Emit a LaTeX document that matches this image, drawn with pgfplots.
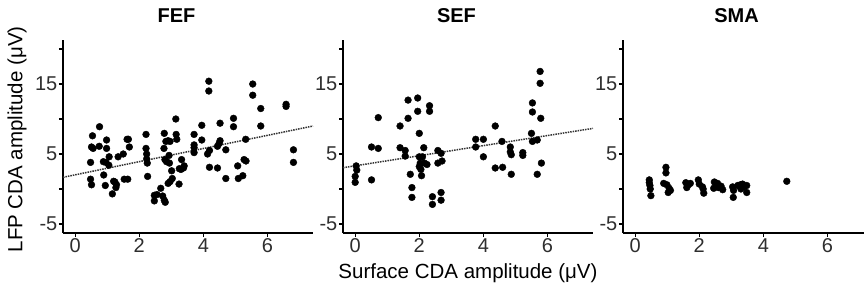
\documentclass[border=0pt]{standalone}
\usepackage{fontspec}
\setmainfont{Liberation Sans}
\usepackage{pgfplots}
\pgfplotsset{compat=1.18}
\pgfplotsset{
  panel/.style={
    scale only axis, width=250pt, height=193pt,
    anchor=south west,
    xmin=-0.38, xmax=7.42, ymin=-6.29, ymax=21.29,
    axis lines=left, axis line style={-, line width=1.1pt, black},
    tick align=outside, major tick length=4pt, tick style={line width=1.1pt, black},
    xtick={0,2,4,6}, xticklabels={0,2,4,6},
    ytick={-5,0,5,10,15,20}, yticklabels={-5,{},5,{},15,{}},
    ticklabel style={font=\fontsize{20}{24}\selectfont, text=black!82, inner sep=1.5pt},
    title style={font=\fontsize{20}{24}\selectfont\bfseries, at={(axis description cs:0.454,1.095)}, anchor=center},
    label style={font=\fontsize{20.5}{25}\selectfont},
    clip=false,
  },
  pts/.style={only marks, mark=*, mark size=3.4pt, black},
  fit/.style={densely dotted, line width=1.5pt, black!80, no marks},
}
\begin{document}
\begin{tikzpicture}
% FEF
\begin{axis}[panel, at={(63pt,-233pt)}, title={FEF},
  ylabel={LFP CDA amplitude (μV)},
  ylabel style={at={(axis description cs:-0.184,0.485)}, anchor=center}]
\addplot[fit] coordinates {(-0.38,1.67) (7.42,9.0)};
\addplot[pts] coordinates {
(0.54,7.6) (0.51,6.0) (0.56,5.8) (0.48,3.8) (0.48,1.4) (0.51,0.6)
(0.76,8.9) (0.75,6.1) (0.98,7.0) (0.98,5.8) (0.88,3.9) (0.96,3.8) (1.06,4.6) (1.05,3.4) (0.89,2.0) (0.94,0.5)
(1.16,-0.7) (1.2,1.1) (1.24,1.0) (1.29,0.6) (1.27,0.2) (1.34,4.6)
(1.5,5.0) (1.53,1.4) (1.64,1.4) (1.66,7.1) (1.69,6.0) (1.62,7.1)
(2.21,7.8) (2.21,5.8) (2.23,5.0) (2.23,4.3) (2.25,3.7) (2.26,1.8)
(2.47,-0.9) (2.55,-0.8) (2.47,-1.7) (2.67,0.1) (2.73,-1.0) (2.78,-1.6) (2.81,-1.9)
(2.78,7.95) (2.77,5.8) (2.8,4.2) (2.85,3.9) (2.83,6.8) (2.9,6.9) (2.96,6.8)
(2.93,4.8) (2.94,3.7) (2.9,0.8) (2.96,1.05) (3.01,2.6) (3.03,1.5) (3.14,10.0) (3.15,7.8) (3.17,7.1)
(3.25,2.9) (3.24,0.7) (3.32,4.2) (3.38,3.0) (3.4,3.3) (3.3,2.8)
(3.71,7.8) (3.71,6.3) (3.71,5.9) (3.71,5.2) (3.95,9.1) (3.95,7.0)
(4.17,15.4) (4.17,14.0) (4.13,5.0) (4.19,5.5) (4.19,3.1) (4.44,6.1) (4.44,3.0) (4.52,9.4) (4.52,6.9) (4.49,6.5)
(4.7,5.6) (4.7,1.5) (4.94,10.1) (4.94,8.9) (5.07,3.3) (5.09,1.5) (5.23,1.9) (5.27,4.2) (5.33,4.0) (5.32,7.1)
(5.54,15.0) (5.54,13.4) (5.79,11.5) (5.79,9.0)
(6.58,12.1) (6.58,11.8) (6.81,5.6) (6.81,3.8)
};
\end{axis}
% SEF
\begin{axis}[panel, at={(343pt,-233pt)}, title={SEF},
  xlabel={Surface CDA amplitude (μV)},
  xlabel style={at={(axis description cs:0.5,-0.207)}, anchor=center}]
\addplot[fit] coordinates {(-0.38,3.04) (7.42,8.66)};
\addplot[pts] coordinates {
(0.03,3.3) (0.05,2.7) (0.0,1.8) (0.0,0.95)
(0.51,6.0) (0.51,1.3) (0.72,10.2) (0.72,5.8)
(1.4,9.0) (1.4,5.9) (1.56,5.5) (1.56,4.7) (1.65,12.7) (1.65,10.1) (1.72,2.1) (1.77,0.2) (1.77,-1.2)
(1.95,13.0) (1.95,11.1) (2.0,7.95) (2.0,4.6) (2.03,3.7) (2.0,3.2) (2.05,2.8) (2.07,1.9) (2.14,5.9) (2.1,4.6) (2.16,3.7) (2.24,3.5) (2.32,11.9) (2.32,11.1)
(2.41,-1.1) (2.41,-2.2) (2.58,5.5) (2.58,3.7) (2.68,5.1) (2.71,4.0) (2.68,-0.5) (2.68,-1.6)
(3.76,7.1) (3.76,6.0) (4.0,7.1) (4.0,4.6) (4.37,9.0) (4.37,3.0) (4.58,6.8) (4.6,3.1) (4.84,6.0) (4.84,5.3) (4.87,4.9) (4.87,2.1) (5.23,5.2) (5.23,4.8)
(5.53,12.3) (5.53,11.0) (5.5,7.95) (5.53,6.8) (5.68,7.0) (5.77,16.8) (5.77,15.1) (5.79,10.1) (5.68,2.1) (5.81,3.7)
};
\end{axis}
% SMA
\begin{axis}[panel, at={(623pt,-233pt)}, title={SMA}]
\addplot[pts] coordinates {
(0.44,1.3) (0.44,0.9) (0.46,0.5) (0.47,0.0) (0.49,-0.95)
(0.96,3.1) (0.96,2.3) (0.89,0.8) (0.99,0.6) (1.06,0.1) (1.03,-0.5) (1.1,-0.2)
(1.58,0.9) (1.61,0.2) (1.66,0.6) (1.72,0.8)
(1.97,1.3) (2.0,0.7) (2.1,0.3) (2.14,-0.6) (2.12,0.0)
(2.47,1.0) (2.52,0.6) (2.57,0.8) (2.45,0.1) (2.6,0.2) (2.68,0.4) (2.73,-0.1)
(3.04,0.3) (3.07,-0.2) (3.06,-1.2) (3.2,0.5) (3.28,0.6) (3.35,0.7) (3.4,0.3) (3.48,0.5) (3.48,-0.5) (3.3,0.0)
(4.73,1.1)
};
\end{axis}
\pgfresetboundingbox
\path[use as bounding box] (0,0) rectangle (864pt,-290pt);
\end{tikzpicture}
\end{document}
